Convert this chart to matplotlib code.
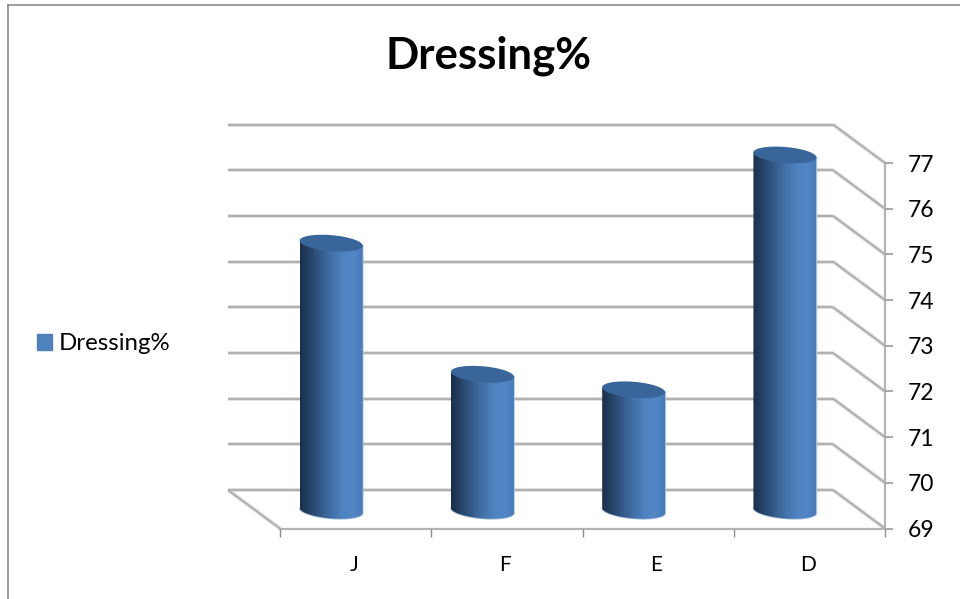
import numpy as np
import matplotlib
matplotlib.use("Agg")
import matplotlib.pyplot as plt
from matplotlib.colors import LinearSegmentedColormap
from matplotlib.lines import Line2D
from matplotlib.patches import Patch, PathPatch
from matplotlib.path import Path

# Data
title = "Dressing%"
categories = ["J", "F", "E", "D"]
values = [74.85, 71.98, 71.64, 76.78]
y_ticks = [69, 70, 71, 72, 73, 74, 75, 76, 77]

plt.rcParams["font.family"] = ["Lato", "DejaVu Sans"]

W, H = 960, 599
fig = plt.figure(figsize=(W / 100, H / 100), dpi=100, facecolor="white")

# Axes is the front plane of the fake 3D box
left, right, bottom, top = 280, 885, 528.5, 163
ax = fig.add_axes([left / W, 1 - bottom / H, (right - left) / W, (bottom - top) / H])
ax.patch.set_visible(False)

n = len(categories)
px_x = (right - left) / n
px_y = (bottom - top) / (y_ticks[-1] - y_ticks[0])

# Depth of the box and cylinder shape, in data units
depth_x = -52 / px_x
depth_y = 38.5 / px_y
half_w = 31.5 / px_x
ell_h = 8.0 / px_y
ell_tilt = 2.5 / px_y
base_frac = 0.47

GRID = "#adadad"
HALO = "#dedede"


def soft_line(xs, ys):
    ax.plot(xs, ys, color=HALO, lw=2.8, clip_on=False, zorder=1, solid_capstyle="butt")
    ax.plot(xs, ys, color=GRID, lw=1.3, clip_on=False, zorder=1.1, solid_capstyle="butt")


# Back wall and side wall gridlines
for v in y_ticks:
    soft_line([depth_x, n + depth_x], [v + depth_y, v + depth_y])
    soft_line([n + depth_x, n], [v + depth_y, v])
soft_line([depth_x, 0], [y_ticks[0] + depth_y, y_ticks[0]])

body_cmap = LinearSegmentedColormap.from_list(
    "cyl",
    [(0, "#1b2f4b"), (0.12, "#233e60"), (0.4, "#3b6496"), (0.68, "#4f82c0"),
     (0.85, "#5286c6"), (1, "#4a7bb8")],
)
gradient = np.linspace(0, 1, 256).reshape(1, -1)
t_low = np.linspace(np.pi, 2 * np.pi, 60)
t_top = np.linspace(0, np.pi, 60)
t_full = np.linspace(0, 2 * np.pi, 120)

for i, val in enumerate(values):
    cx = i + 0.5 + depth_x * base_frac
    y0 = y_ticks[0] + depth_y * base_frac
    # Bars stand mid-depth, so the top moves back with the base
    y1 = val + depth_y * base_frac

    # Body outline: bottom arc of the base, then back along the top edge
    xb = cx + half_w * np.cos(t_low)
    yb = y0 + ell_h * np.sin(t_low) - ell_tilt * np.cos(t_low)
    xt = cx + half_w * np.cos(t_top)
    yt = y1 - ell_tilt * np.cos(t_top)
    body = Path(np.column_stack([np.r_[xb, xt], np.r_[yb, yt]]), closed=False)
    patch = PathPatch(body, transform=ax.transData, facecolor="none",
                      edgecolor="#a9c0dc", lw=1.2, zorder=2, clip_on=False)
    ax.add_patch(patch)

    im = ax.imshow(gradient, cmap=body_cmap, aspect="auto", zorder=2.1,
                   extent=[cx - half_w, cx + half_w, y0 - 2 * ell_h, y1 + ell_h])
    im.set_clip_path(patch)
    im.set_clip_box(fig.bbox)

    # Cap of the cylinder
    ax.fill(cx + half_w * np.cos(t_full),
            y1 + ell_h * np.sin(t_full) - ell_tilt * np.cos(t_full),
            color="#39659a", lw=0, zorder=2.2, clip_on=False)

ax.set_xlim(0, n)
ax.set_ylim(y_ticks[0], y_ticks[-1])

# Front axis lines and ticks
for side in ["top", "left"]:
    ax.spines[side].set_visible(False)
for side in ["bottom", "right"]:
    ax.spines[side].set_color("#b4b4b4")
    ax.spines[side].set_linewidth(1.6)
    ax.spines[side].set_zorder(1.2)

ax.yaxis.tick_right()
ax.set_yticks(y_ticks)
ax.set_yticklabels([str(v) for v in y_ticks])
ax.tick_params(axis="y", length=5.5, width=1.2, color="#9a9a9a", pad=11,
               labelsize=16.5, labelcolor="black")
ax.set_xticks(range(n + 1))
ax.set_xticklabels([])
ax.tick_params(axis="x", which="major", length=5.5, width=1.0, color="#8c8c8c")
ax.set_xticks(np.arange(n) + 0.49, minor=True)
ax.set_xticklabels(categories, minor=True)
ax.tick_params(axis="x", which="minor", length=0, pad=19, labelsize=15, labelcolor="black")

fig.text(488.5 / W, 1 - 56 / H, title, fontsize=31.5, fontweight="bold",
         ha="center", va="center", color="black")

fig.legend(handles=[Patch(facecolor="#4f81bd", edgecolor="#4f81bd", label=title)],
           loc="center left", bbox_to_anchor=(37 / W, 1 - 344 / H), frameon=False,
           fontsize=17.3, handlelength=0.62, handleheight=0.62, handletextpad=0.28,
           borderpad=0, borderaxespad=0)

# Chart area border, only top and left show
fig.add_artist(Line2D([7.5 / W, 7.5 / W], [0, 1 - 4.5 / H], color="#8c8c8c", lw=1.2))
fig.add_artist(Line2D([7.5 / W, 1], [1 - 4.5 / H, 1 - 4.5 / H], color="#8c8c8c", lw=1.2))

fig.savefig("out.png", dpi=100)
